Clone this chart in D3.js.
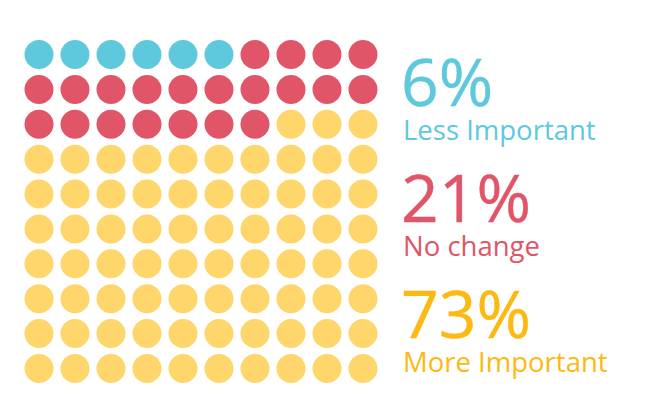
<!DOCTYPE html>
<html>
<head>
<meta charset="utf-8">
<script src="https://cdn.jsdelivr.net/npm/d3@7"></script>
<style>
  body { margin: 0; background: #fff; }
  svg { display: block; }
</style>
</head>
<body>
<svg id="chart" width="648" height="398"></svg>
<script>
// category shares, in percent (one dot per percent)
const categories = ["Less Important", "No change", "More Important"];
const values = [6, 21, 73];
const labels = ["6%", "21%", "73%"];
const dotColors = ["#5ec8dc", "#e05568", "#fed66b"];
const textColors = ["#5ec8dc", "#e05568", "#fcb912"];

const svg = d3.select("#chart");

// expand counts into 100 dots, in order
let dots = [];
values.forEach((v, k) => {
    for (let i = 0; i < v; i++) dots.push(k);
});

const cols = d3.range(10);
const x = d3.scalePoint().domain(cols).range([39, 363]);
const y = d3.scalePoint().domain(cols).range([54.5, 368.5]);

svg.append("g")
    .selectAll("circle")
    .data(dots)
    .join("circle")
    .attr("cx", (d, i) => x(i % 10))
    .attr("cy", (d, i) => y(Math.floor(i / 10)))
    .attr("r", 14.5)
    .attr("fill", d => dotColors[d]);

// legend: big percentage + label
const legY = d3.scalePoint().domain(d3.range(categories.length)).range([106, 338]);

const leg = svg.append("g")
    .selectAll("g")
    .data(categories)
    .join("g")
    .attr("transform", (d, i) => `translate(401,${legY(i)})`);

leg.append("text")
    .text((d, i) => labels[i])
    .attr("font-family", "Open Sans, sans-serif")
    .attr("font-size", 66)
    .attr("fill", (d, i) => textColors[i])
    .attr("stroke", (d, i) => textColors[i])
    .attr("stroke-width", 0.4);

leg.append("text")
    .text(d => d)
    .attr("y", 33.5)
    .attr("x", 2)
    .attr("font-family", "Open Sans, sans-serif")
    .attr("font-size", 27.5)
    .attr("fill", (d, i) => textColors[i]);
</script>
</body>
</html>
